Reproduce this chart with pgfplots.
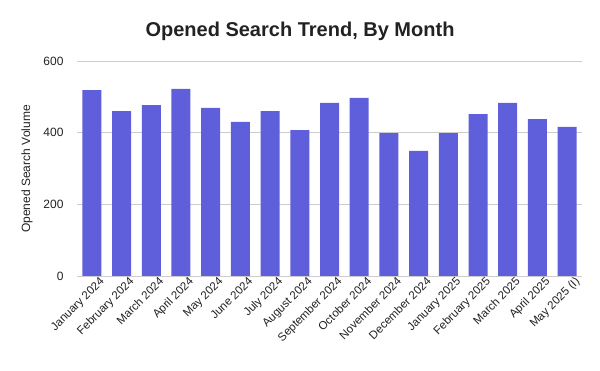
\documentclass[border=0pt]{standalone}
\usepackage{pgfplots}
\pgfplotsset{compat=1.18}
\usepackage{fontspec}
\setmainfont{Liberation Sans}
\definecolor{barc}{RGB}{95,94,219}
\definecolor{gridc}{RGB}{204,204,204}
\definecolor{txt}{RGB}{34,34,34}
\begin{document}
\begin{tikzpicture}[x=1pt,y=1pt]
\path[use as bounding box] (0,0) rectangle (600,371);
\node[font=\bfseries\fontsize{20}{22}\selectfont, text=txt] at (300,340) {Opened Search Trend, By Month};
\node[font=\fontsize{12}{14}\selectfont, text=txt, rotate=90] at (27,202) {Opened Search Volume};
\begin{axis}[
  at={(77pt,95pt)}, anchor=south west,
  scale only axis, width=505pt, height=215pt,
  ymin=0, ymax=600, xmin=-0.5, xmax=16.5,
  ytick={0,200,400,600},
  xtick=data,
  xticklabels={January 2024,February 2024,March 2024,April 2024,May 2024,June 2024,July 2024,August 2024,September 2024,October 2024,November 2024,December 2024,January 2025,February 2025,March 2025,April 2025,May 2025 (I)},
  x tick label style={rotate=45, anchor=north east, font=\fontsize{11.5}{13}\selectfont, text=txt, inner sep=1pt, yshift=-4pt, xshift=6pt},
  y tick label style={font=\fontsize{12}{14}\selectfont, text=txt},
  /pgf/number format/assume math mode=true,
  ymajorgrids, grid style={gridc, line width=0.8pt},
  axis line style={draw=none},
  major tick length=0pt,
  yticklabel style={xshift=-10pt},
]
\addplot[ybar, bar width=19pt, fill=barc, draw=none] coordinates {
(0,519) (1,460) (2,477) (3,522) (4,469) (5,430) (6,460) (7,407) (8,483)
(9,497) (10,399) (11,349) (12,399) (13,452) (14,483) (15,438) (16,416)
};
\draw[txt, line width=0.8pt] (rel axis cs:0,0) -- (rel axis cs:1,0);
\end{axis}
\end{tikzpicture}
\end{document}
